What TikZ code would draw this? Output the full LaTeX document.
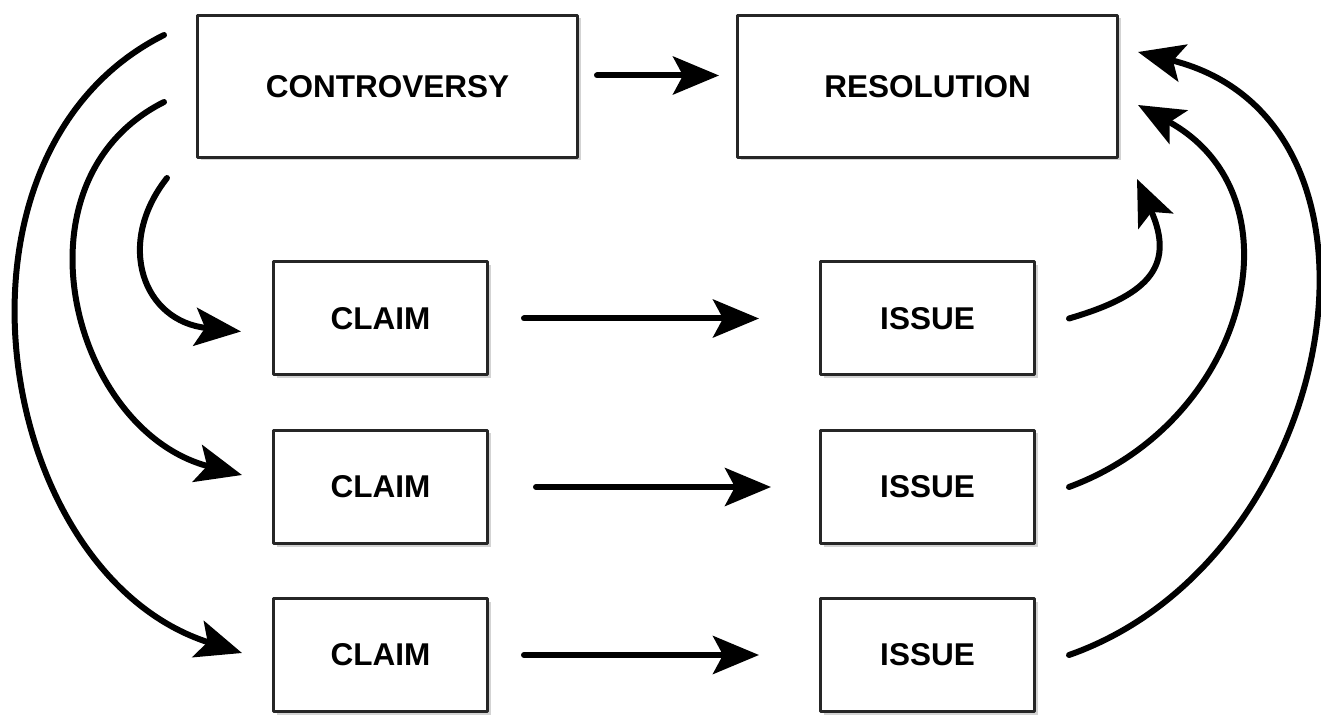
\documentclass[tikz,border=0pt]{standalone}
\usepackage{fontspec}
\setmainfont{Liberation Sans}
\usetikzlibrary{arrows.meta,shadows}

\begin{document}
\begin{tikzpicture}[x=0.5pt, y=-0.5pt, line join=round, line cap=round,
    box/.style={draw=black!85, line width=1.5pt, fill=white, inner sep=0pt,
      font=\fontsize{15.75}{18}\selectfont\bfseries,
      drop shadow={shadow xshift=1.5pt, shadow yshift=-1.5pt, opacity=0.35}},
    bigbox/.style={box, minimum width=190pt, minimum height=71pt},
    smallbox/.style={box, minimum width=107pt, minimum height=56.5pt},
    arr/.style={line width=3pt, -{Stealth[length=23pt, width=19pt, inset=5pt]}}]
    \useasboundingbox (0,0) rectangle (1321,715);

    % top row
    \node[bigbox] (ctrv) at (387.5,86.5) {CONTROVERSY};
    \node[bigbox] (res)  at (927.5,86.5) {RESOLUTION};

    % three claim -> issue rows
    \foreach \i/\y in {1/318.5, 2/487, 3/655} {
      \node[smallbox] (clm\i) at (380.5,\y) {CLAIM};
      \node[smallbox] (iss\i) at (927.5,\y) {ISSUE};
    }

    % straight arrows
    \draw[arr] ([shift={(18,-11)}]ctrv.east) -- ([shift={(-17,-11)}]res.west);
    \draw[arr, shorten <=17.5pt, shorten >=30pt] (clm1.east) -- (iss1.west);
    \draw[arr, shorten <=23.5pt, shorten >=24pt] (clm2.east) -- (iss2.west);
    \draw[arr, shorten <=17.5pt, shorten >=30pt] (clm3.east) -- (iss3.west);

    % left arcs: controversy fans out to the claims
    \draw[arr] ([shift={(-29,19)}]ctrv.south west)
      .. controls +(-52,66) and +(-98,-10) .. ([shift={(-31,13)}]clm1.west);
    \draw[arr] ([shift={(-32,15.5)}]ctrv.west)
      .. controls +(-157,79) and +(-170,-44) .. ([shift={(-30,-12)}]clm2.west);
    \draw[arr] ([shift={(-32,-51.5)}]ctrv.west)
      .. controls +(-236,118) and +(-249,-79) .. ([shift={(-30,-2)}]clm3.west);

    % right arcs: issues come back to the resolution
    \draw[arr] ([shift={(33,0)}]iss1.east)
      .. controls +(75,-22) and +(40,90) .. ([shift={(18,20)}]res.south east);
    \draw[arr] ([shift={(33,0)}]iss2.east)
      .. controls +(179,-66) and +(167,91) .. ([shift={(19,18.5)}]res.east);
    \draw[arr] ([shift={(33,0)}]iss3.east)
      .. controls +(271,-95) and +(279,69) .. ([shift={(19,-34.5)}]res.east);
  \end{tikzpicture}
\end{document}
